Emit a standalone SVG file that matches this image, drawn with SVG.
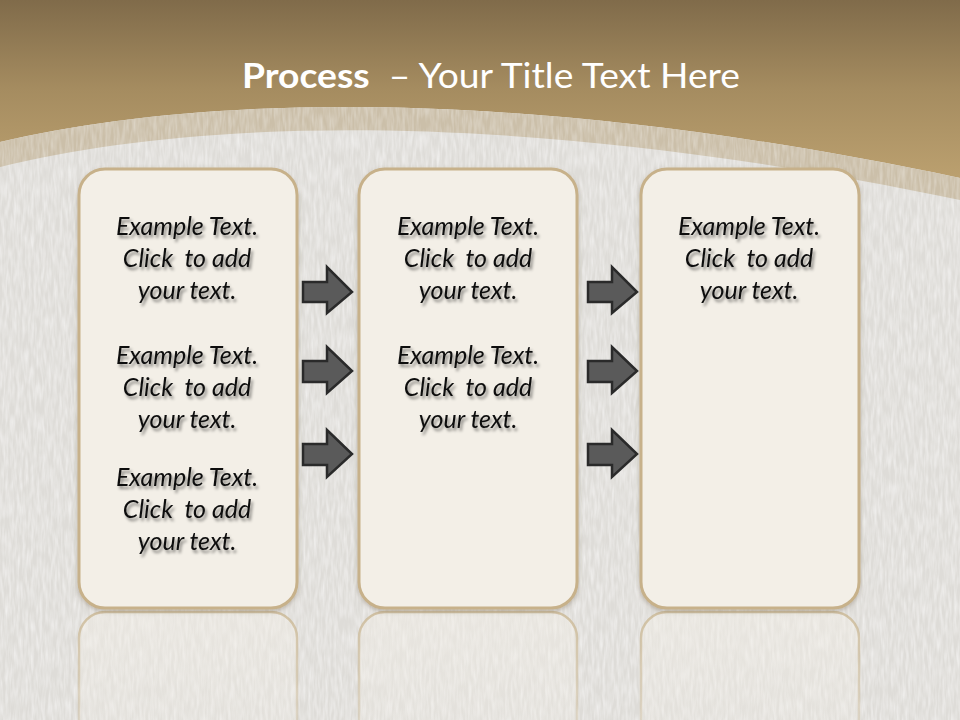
<svg xmlns="http://www.w3.org/2000/svg" width="960" height="720" viewBox="0 0 960 720">
<defs>
<linearGradient id="hdr" x1="0" y1="0" x2="0" y2="1">
<stop offset="0" stop-color="#806B4A"/>
<stop offset="0.5" stop-color="#A58C60"/>
<stop offset="1" stop-color="#BBA06F"/>
</linearGradient>
<filter id="tex" x="0" y="0" width="100%" height="100%">
<feTurbulence type="fractalNoise" baseFrequency="0.35 0.06" numOctaves="2" seed="3" result="n"/>
<feColorMatrix in="n" type="matrix" values="0 0 0 0 1  0 0 0 0 1  0 0 0 0 1  0 0 0 -1.6 1.1" result="w"/>
<feComposite in="w" in2="SourceGraphic" operator="in"/>
</filter>
<filter id="tsh" x="-10%" y="-30%" width="130%" height="180%">
<feDropShadow dx="2" dy="3" stdDeviation="1.6" flood-color="#000" flood-opacity="0.45"/>
</filter>
<filter id="bsh" x="-10%" y="-10%" width="120%" height="120%">
<feDropShadow dx="0" dy="2" stdDeviation="2" flood-color="#6a5a40" flood-opacity="0.35"/>
</filter>
<linearGradient id="refl" x1="0" y1="0" x2="0" y2="1">
<stop offset="0" stop-color="#F3EFE7" stop-opacity="0.5"/>
<stop offset="1" stop-color="#F3EFE7" stop-opacity="0.1"/>
</linearGradient>
<linearGradient id="reflS" x1="0" y1="0" x2="0" y2="1">
<stop offset="0" stop-color="#C8B48E" stop-opacity="0.75"/>
<stop offset="1" stop-color="#C8B48E" stop-opacity="0.15"/>
</linearGradient>
<style>
.box{fill:#F3EFE7;stroke:#C7B18A;stroke-width:3}
.rbox{fill:url(#refl);stroke:url(#reflS);stroke-width:2.5}
.arrow{fill:#5A5A5A;stroke:#2A2A2A;stroke-width:2.5;stroke-linejoin:miter}
.t{font-family:Lato,"Open Sans","Liberation Sans",sans-serif;font-style:italic;font-size:25px;fill:#111;text-anchor:middle;white-space:pre}
.title{font-family:Lato,"Open Sans","Liberation Sans",sans-serif;font-size:34px;fill:#fff;text-anchor:middle;white-space:pre}
</style>
</defs>

<!-- background -->
<rect x="0" y="0" width="960" height="720" fill="#DEDCD8"/>
<rect x="0" y="0" width="960" height="720" fill="#DEDCD8" filter="url(#tex)" opacity="0.55"/>

<!-- header -->
<path d="M0 0 H960 V178 C520 85 200 95 0 142 Z" fill="url(#hdr)"/>
<path d="M0 142 C200 95 520 85 960 178 V200 C520 108 200 118 0 167 Z" fill="#CBBFA9"/>
<path d="M0 142 C200 95 520 85 960 178 V200 C520 108 200 118 0 167 Z" fill="#CBBFA9" filter="url(#tex)" opacity="0.35"/>

<text class="title" xml:space="preserve" x="491" y="88" textLength="498" lengthAdjust="spacingAndGlyphs"><tspan font-weight="bold">Process</tspan>  – Your Title Text Here</text>

<!-- reflections -->
<g id="reflections">
<rect class="rbox" x="79" y="612" width="218" height="160" rx="26"/>
<rect class="rbox" x="359" y="612" width="218" height="160" rx="26"/>
<rect class="rbox" x="641" y="612" width="218" height="160" rx="26"/>
</g>

<!-- connectors -->
<g id="connectors">
<path class="arrow" d="M303 282 H327 V267 L352 292 L327 313 V302 H303 Z"/>
<path class="arrow" d="M303 361 H327 V347 L352 371 L327 393 V382 H303 Z"/>
<path class="arrow" d="M303 444 H327 V430 L352 454 L327 477 V465 H303 Z"/>
<path class="arrow" d="M588 282 H612 V267 L637 292 L612 313 V302 H588 Z"/>
<path class="arrow" d="M588 361 H612 V347 L637 371 L612 393 V382 H588 Z"/>
<path class="arrow" d="M588 444 H612 V430 L637 454 L612 477 V465 H588 Z"/>
</g>

<g id="box1">
<rect class="box" x="79" y="169" width="218" height="439" rx="26" filter="url(#bsh)"/>
<g filter="url(#tsh)" xml:space="preserve">
<text class="t" x="187" y="235">Example Text.</text>
<text class="t" x="187" y="267">Click  to add</text>
<text class="t" x="187" y="299">your text.</text>
<text class="t" x="187" y="364">Example Text.</text>
<text class="t" x="187" y="396">Click  to add</text>
<text class="t" x="187" y="428">your text.</text>
<text class="t" x="187" y="486">Example Text.</text>
<text class="t" x="187" y="518">Click  to add</text>
<text class="t" x="187" y="550">your text.</text>
</g>
</g>

<g id="box2">
<rect class="box" x="359" y="169" width="218" height="439" rx="26" filter="url(#bsh)"/>
<g filter="url(#tsh)" xml:space="preserve">
<text class="t" x="468" y="235">Example Text.</text>
<text class="t" x="468" y="267">Click  to add</text>
<text class="t" x="468" y="299">your text.</text>
<text class="t" x="468" y="364">Example Text.</text>
<text class="t" x="468" y="396">Click  to add</text>
<text class="t" x="468" y="428">your text.</text>
</g>
</g>

<g id="box3">
<rect class="box" x="641" y="169" width="218" height="439" rx="26" filter="url(#bsh)"/>
<g filter="url(#tsh)" xml:space="preserve">
<text class="t" x="749" y="235">Example Text.</text>
<text class="t" x="749" y="267">Click  to add</text>
<text class="t" x="749" y="299">your text.</text>
</g>
</g>
</svg>
